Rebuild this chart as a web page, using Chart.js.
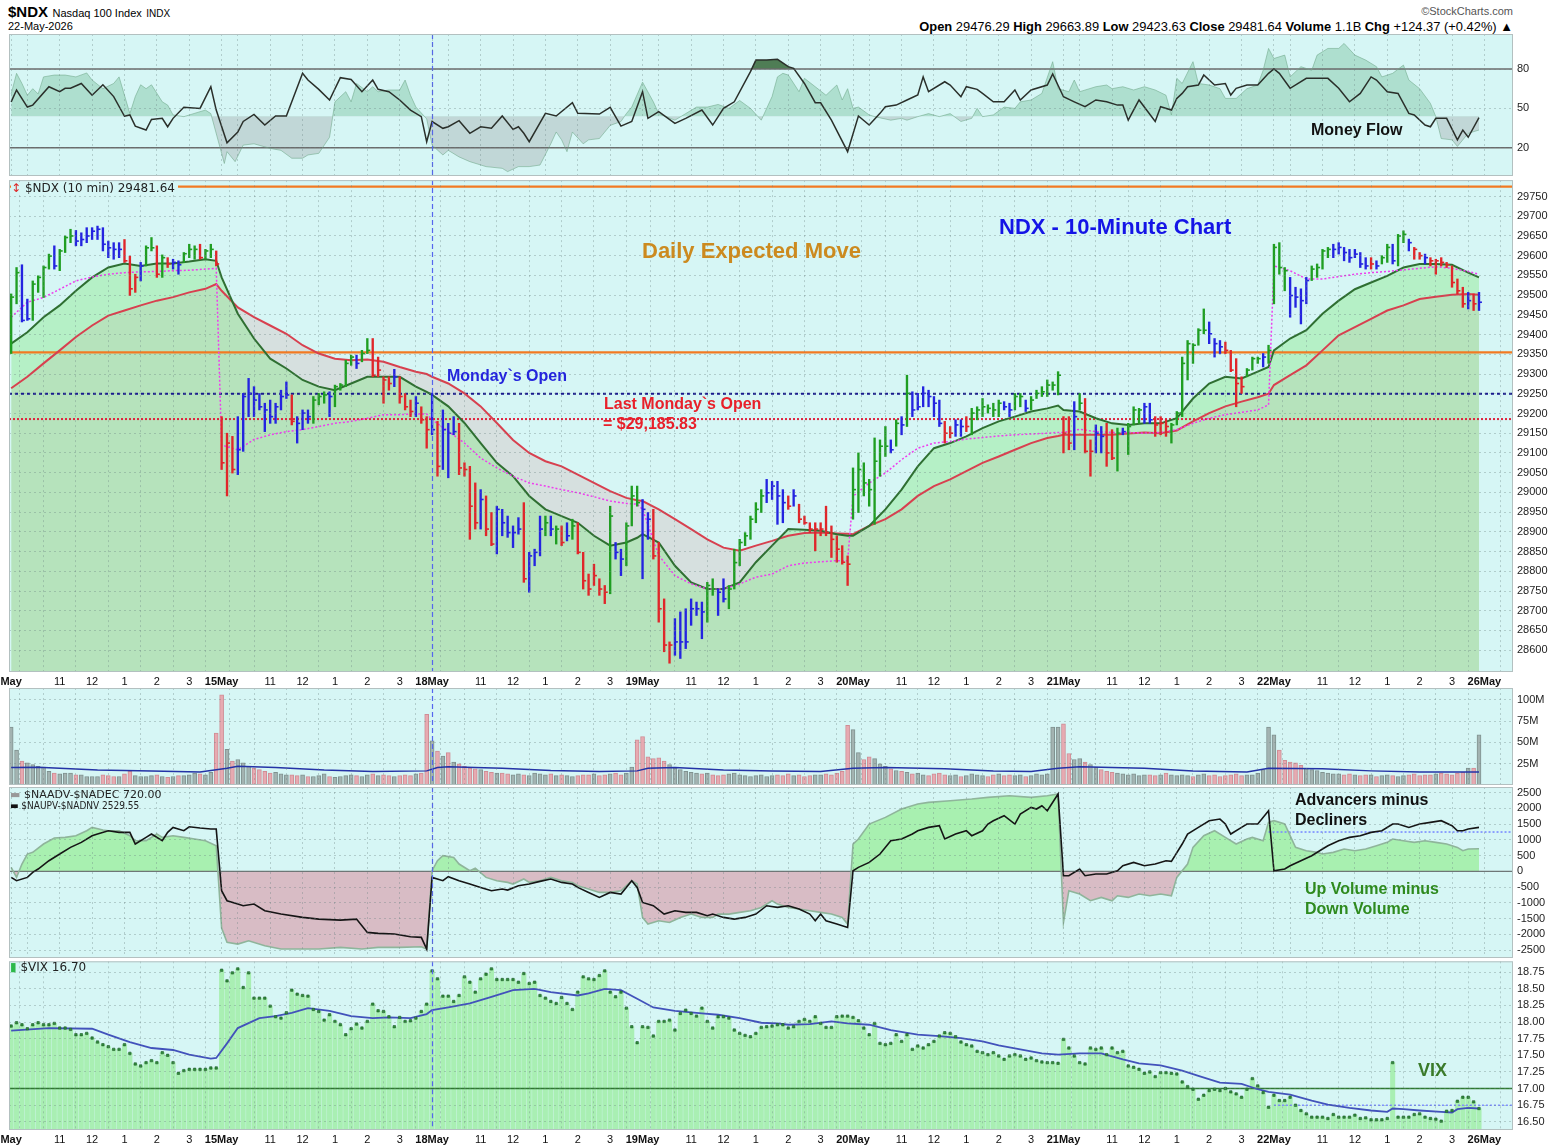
<!DOCTYPE html>
<html>
<head>
<meta charset="utf-8">
<script src="https://cdn.jsdelivr.net/npm/chart.js@4.4.1/dist/chart.umd.min.js"></script>
<style>
  body { margin: 0; background: #fff; width: 1559px; height: 1148px; position: relative; overflow: hidden;
         font-family: "Liberation Sans", Arial, sans-serif; }
  canvas { position: absolute; left: 0; }
  .t { position: absolute; white-space: nowrap; line-height: 1; }
  .note { font-weight: bold; font-size: 16px; }
  .leg { font-family: "DejaVu Sans", sans-serif; color: #222; }
</style>
</head>
<body>
<div class="t" style="left:8px;top:4px"><b style="font-size:15px">$NDX</b> <span style="font-size:11px">Nasdaq 100 Index</span> <span style="font-size:10px">INDX</span></div>
<div class="t" style="left:8px;top:21px;font-size:11px">22-May-2026</div>
<div class="t" style="right:46px;top:6px;font-size:11px;color:#555">©StockCharts.com</div>
<div class="t" style="right:46px;top:21px;font-size:12.9px"><b>Open</b> 29476.29 <b>High</b> 29663.89 <b>Low</b> 29423.63 <b>Close</b> 29481.64 <b>Volume</b> 1.1B <b>Chg</b> +124.37 (+0.42%) ▲</div>

<canvas id="mf" width="1559" height="142" style="top:34px"></canvas>
<canvas id="price" width="1559" height="511" style="top:177px"></canvas>
<canvas id="vol" width="1559" height="97" style="top:688px"></canvas>
<canvas id="breadth" width="1559" height="171" style="top:787px"></canvas>
<canvas id="vix" width="1559" height="187" style="top:959px"></canvas>

<!-- panel legends and notes -->
<div class="t leg" style="left:11px;top:182px;font-size:12px;background:#d6f6f5;padding-right:3px"><span style="color:#d22">↕</span> $NDX (10 min) 29481.64</div>
<div class="t leg" style="left:10px;top:789px;font-size:11px"><span style="color:#999">▬</span> $NAADV-$NADEC 720.00</div>
<div class="t leg" style="left:10px;top:801px;font-size:10px;font-stretch:condensed"><span style="color:#111">▬</span> $NAUPV-$NADNV 2529.55</div>
<div class="t leg" style="left:10px;top:961px;font-size:12px"><span style="color:#2db84a">▮</span> $VIX 16.70</div>

<div class="t note" style="left:642px;top:240px;font-size:22px;color:#cc8a1f">Daily Expected Move</div>
<div class="t note" style="left:999px;top:216px;font-size:22px;color:#1414e6">NDX - 10-Minute Chart</div>
<div class="t note" style="left:447px;top:368px;color:#2424dc">Monday`s Open</div>
<div class="t note" style="left:604px;top:396px;color:#e8202a">Last Monday`s Open</div>
<div class="t note" style="left:603px;top:416px;color:#e8202a">= $29,185.83</div>
<div class="t note" style="left:1311px;top:122px;color:#111">Money Flow</div>
<div class="t note" style="left:1295px;top:792px;color:#111">Advancers minus</div>
<div class="t note" style="left:1295px;top:812px;color:#111">Decliners</div>
<div class="t note" style="left:1305px;top:881px;color:#2e8a1e">Up Volume minus</div>
<div class="t note" style="left:1305px;top:901px;color:#2e8a1e">Down Volume</div>
<div class="t note" style="left:1418px;top:1061px;font-size:18px;color:#3a7a2a">VIX</div>

<script>
// ---- time axis: 10-minute bars, 39 per session ----
const BARS_PER_DAY = 39;
const dayLabels = ['May', '15May', '18May', '19May', '20May', '21May', '22May', '26May'];
const hourOffsets = [3, 9, 15, 21, 27, 33];          // 10:00 .. 3:00 in bars after the 9:30 open
const hourLabels = ['', '11', '12', '1', '2', '3'];
const MONDAY_BAR = 78;                                 // 18 May open, dashed blue marker
const X_MIN = -0.4, X_MAX = 278.3;

// ---- $NDX 10-minute bars, one line per session (14,15,18,19,20,21,22 May) ----
const priceHigh = [
  [29503,29570,29577,29490,29536,29549,29574,29604,29625,29616,29650,29667,29664,29658,29671,29671,29675,29671,29637,29633,29633,29641,29599,29553,29583,29625,29646,29625,29602,29595,29591,29587,29608,29629,29625,29629,29616,29629,29612],
  [29192,29150,29142,29192,29251,29289,29268,29251,29226,29234,29226,29259,29280,29247,29192,29209,29209,29243,29251,29255,29255,29272,29276,29335,29348,29348,29360,29390,29390,29343,29293,29293,29312,29293,29251,29234,29243,29217,29192],
  [29251,29180,29209,29175,29192,29175,29075,29066,29024,29007,28991,28949,28965,28957,28940,28915,28936,28974,28848,28856,28940,28940,28940,28915,28915,28923,28932,28923,28848,28793,28818,28781,28764,28965,28873,28856,28923,29016,29016],
  [28982,28949,28957,28873,28730,28621,28680,28697,28705,28730,28722,28722,28772,28781,28755,28781,28764,28856,28881,28898,28940,28974,29007,29033,29028,29028,29007,28991,29007,28970,28940,28923,28923,28923,28965,28915,28890,28865,28839],
  [29062,29100,29075,29033,29138,29133,29167,29133,29184,29192,29297,29255,29251,29268,29259,29243,29234,29180,29167,29184,29184,29192,29213,29217,29238,29222,29226,29234,29230,29226,29251,29251,29234,29243,29259,29268,29285,29280,29306],
  [29192,29192,29230,29251,29238,29133,29171,29167,29175,29159,29163,29163,29175,29217,29213,29226,29226,29192,29192,29184,29175,29205,29343,29385,29377,29415,29465,29432,29390,29385,29381,29360,29339,29293,29314,29343,29343,29352,29373],
  [29629,29633,29570,29545,29520,29516,29545,29574,29579,29616,29621,29629,29633,29621,29616,29616,29608,29595,29595,29587,29600,29629,29629,29654,29663,29642,29621,29608,29604,29595,29591,29595,29583,29574,29541,29520,29507,29503,29507],
];
const priceLow = [
  [29352,29478,29432,29436,29436,29507,29494,29566,29566,29562,29608,29633,29625,29625,29633,29641,29641,29612,29595,29591,29595,29583,29499,29507,29536,29574,29612,29545,29545,29570,29566,29553,29583,29595,29591,29591,29591,29595,29574],
  [29058,28991,29049,29045,29104,29192,29192,29209,29154,29175,29175,29209,29238,29171,29125,29159,29175,29175,29222,29226,29192,29217,29259,29268,29322,29314,29331,29352,29293,29293,29226,29259,29268,29226,29209,29192,29192,29175,29112],
  [29146,29041,29058,29037,29146,29045,29041,28881,28907,28907,28890,28865,28844,28890,28886,28860,28894,28772,28747,28814,28839,28890,28890,28869,28865,28877,28881,28844,28755,28739,28764,28739,28718,28743,28831,28789,28814,28915,28965],
  [28781,28881,28831,28671,28596,28567,28587,28579,28604,28663,28688,28629,28671,28739,28688,28722,28705,28755,28814,28865,28881,28923,28949,28974,28982,28919,28923,28957,28965,28923,28919,28898,28852,28890,28890,28835,28823,28818,28764],
  [28932,28949,28991,28965,28919,29041,29091,29100,29117,29146,29167,29192,29209,29217,29217,29192,29167,29125,29138,29142,29142,29154,29146,29184,29192,29201,29192,29192,29209,29192,29209,29217,29205,29209,29238,29243,29243,29259,29247],
  [29100,29108,29108,29209,29100,29041,29100,29100,29066,29083,29054,29146,29096,29171,29175,29175,29175,29142,29146,29142,29125,29171,29192,29285,29327,29373,29402,29377,29343,29352,29352,29306,29217,29251,29293,29310,29327,29318,29327],
  [29478,29553,29511,29444,29469,29427,29478,29537,29545,29566,29595,29595,29604,29587,29583,29595,29570,29566,29566,29566,29579,29583,29579,29574,29633,29612,29591,29591,29579,29574,29553,29574,29570,29520,29503,29469,29465,29461,29461],
];
const priceClose = [
  [29495,29557,29436,29440,29528,29545,29570,29599,29574,29612,29646,29650,29637,29641,29650,29662,29667,29629,29620,29616,29616,29587,29516,29545,29574,29620,29620,29553,29595,29579,29583,29577,29605,29616,29616,29595,29612,29616,29579],
  [29075,29125,29058,29108,29243,29251,29234,29217,29209,29192,29217,29243,29247,29180,29175,29201,29192,29234,29243,29247,29243,29268,29272,29327,29343,29327,29352,29360,29297,29310,29285,29276,29293,29243,29217,29205,29226,29184,29159],
  [29159,29066,29159,29150,29154,29062,29058,28965,28923,28982,28907,28869,28957,28923,28898,28898,28907,28781,28839,28848,28907,28923,28907,28907,28873,28890,28915,28848,28776,28755,28789,28755,28747,28940,28848,28831,28915,28991,28974],
  [28957,28932,28839,28705,28613,28613,28621,28621,28621,28705,28705,28697,28764,28755,28747,28730,28755,28822,28873,28890,28932,28957,28991,28999,29016,28991,28974,28965,28991,28932,28923,28907,28907,28907,28898,28881,28856,28823,28818],
  [29007,29058,29024,29007,29079,29117,29117,29108,29175,29171,29251,29209,29217,29251,29243,29226,29175,29150,29150,29171,29167,29167,29201,29209,29217,29213,29209,29226,29217,29209,29243,29243,29213,29234,29251,29255,29272,29272,29297],
  [29150,29125,29192,29226,29104,29104,29150,29142,29100,29087,29150,29154,29167,29209,29209,29217,29184,29171,29175,29167,29171,29201,29327,29377,29373,29411,29411,29402,29377,29369,29360,29310,29276,29268,29310,29339,29339,29343,29360],
  [29621,29570,29562,29499,29495,29486,29537,29566,29570,29612,29616,29616,29621,29608,29595,29604,29579,29574,29579,29574,29595,29621,29587,29650,29654,29633,29616,29600,29595,29587,29587,29583,29577,29532,29511,29478,29486,29478,29482],
];
// impulse colouring of each bar: g = green, b = blue, r = red
const barColor = [
  'ggbbggggbgggbbbbbbbbbrrrbggrgrbbgggrggr',
  'rrrbbbbbbbbbbrbbbgggbggggbggrrrrbrrrbrr',
  'brbbbrrrrbrrbbbbbrbbbgbgrbgrrrrrrgbbggg',
  'bbrrrrbbbbbbggbbgggggggbbbbrbrrrrrrrrrr',
  'gggggggbgbgbbbbbbrrbbrggggggbbggbgggggg',
  'rrbgrrbbrrgbgggbbrrrgggggggbbbrrrrgggbg',
  'gggbbbbggggbbbbbbbrbggbggbrrbrrrrrrrbrb',
];

// ---- overlays, read every 3 bars plus the session's last bar ----
const maOffsets = [0, 3, 6, 9, 12, 15, 18, 21, 24, 27, 30, 33, 36, 38];
const maFast = [
  [29377,29406,29444,29474,29511,29545,29570,29580,29574,29580,29580,29585,29591,29587],
  [29545,29453,29390,29339,29314,29285,29268,29259,29276,29293,29293,29293,29268,29255],
  [29247,29218,29176,29125,29075,29041,28991,28957,28940,28923,28890,28865,28873,28885],
  [28894,28873,28814,28772,28755,28755,28772,28823,28865,28907,28905,28903,28894,28890],
  [28890,28915,28957,29007,29066,29112,29125,29142,29163,29180,29192,29205,29213,29220],
  [29209,29205,29188,29175,29171,29175,29175,29188,29238,29276,29293,29289,29306,29318],
  [29360,29390,29411,29453,29486,29515,29532,29549,29570,29579,29579,29577,29557,29545],
];
const maSlow = [
  [29264,29293,29327,29360,29394,29423,29448,29461,29474,29486,29495,29507,29516,29528],
  [29511,29469,29444,29423,29402,29373,29352,29339,29335,29337,29331,29318,29306,29300],
  [29293,29276,29251,29218,29176,29133,29100,29079,29066,29045,29024,29003,28986,28980],
  [28978,28957,28932,28907,28881,28860,28852,28865,28877,28890,28897,28898,28896,28895],
  [28894,28915,28932,28957,28991,29016,29033,29054,29075,29091,29108,29125,29138,29143],
  [29146,29146,29146,29146,29149,29152,29150,29157,29180,29201,29218,29230,29241,29250],
  [29272,29297,29322,29360,29398,29419,29440,29461,29474,29490,29496,29501,29503,29501],
];
const vwap = [
  [29444,29482,29494,29515,29536,29546,29553,29557,29559,29560,29562,29563,29566,29568],
  [29120,29108,29134,29146,29154,29159,29167,29175,29180,29188,29197,29197,29199,29199],
  [29184,29155,29125,29087,29062,29041,29024,29016,29007,28999,28989,28978,28972,28970],
  [28957,28840,28789,28768,28755,28755,28768,28785,28793,28814,28821,28824,28827,28827],
  [28990,29024,29049,29083,29112,29125,29129,29135,29139,29143,29146,29148,29150,29152],
  [29152,29160,29154,29152,29152,29150,29152,29159,29175,29188,29197,29203,29209,29222],
  [29574,29562,29541,29541,29547,29553,29557,29560,29564,29568,29572,29568,29560,29553],
];
const expectedMoveHigh = 29775, expectedMoveLow = 29355;
const mondayOpen = 29250, lastMondayOpen = 29185.83;

// ---- Money Flow [bar, value] ----
const mfLine = [[0,55],[1,64],[3,51],[4,52.5],[7,66.5],[9,62.7],[10,65.3],[11,65.3],[13,69],[15,60],[17,68],[19,59],[21,44],[22,45],[23,36.5],[25,33.5],[26,41.6],[28,42.4],[29,36],[30,42.4],[32,50.8],[35,50],[37,66.5],[38,48.7],[40,23.8],[42,32],[43,40],[45,45.4],[47,37.3],[49,44.2],[51,44.2],[54,76.7],[55,71.6],[57,64.5],[59,56.4],[61,73.4],[63,72],[65,62.7],[67,71.6],[68,64.5],[70,62.7],[72,56.4],[74,48.7],[76,43.7],[77,24.6],[78,40],[80,34.8],[81,36],[83,40.6],[85,31],[87,36],[89,34.8],[91,44.2],[93,34],[94,36],[95,31],[96,24.6],[99,46.2],[101,44.2],[104,54.3],[105,46.2],[109,45.7],[111,50.8],[113,36.5],[115,40],[117,62.7],[118,42.4],[120,47.5],[123,38.6],[125,42.4],[128,48.7],[130,37.3],[132,50],[134,55],[137,78],[138,86.8],[140,86.8],[142,87.4],[144,81.8],[145,80.5],[147,69],[149,54.3],[150,54.3],[152,41],[155,17],[157,44.2],[159,37.3],[161,46.2],[162,51.3],[164,52.5],[166,56.4],[168,60.2],[169,74],[170,62.7],[173,70.3],[174,67.8],[176,58.9],[177,66.5],[179,64.5],[180,61.4],[182,55],[184,55],[186,64],[187,56.4],[189,64],[192,67.8],[193,76.2],[195,58.9],[197,55],[199,51.3],[201,56.4],[203,55],[205,52.5],[206,52.5],[207,41],[209,56.4],[212,40],[213,51.3],[215,48.7],[216,57.6],[217,61.4],[218,66.5],[220,67.8],[221,75.4],[223,67.8],[225,69],[226,60.2],[227,65.3],[229,67.8],[231,67.8],[233,76.7],[234,80],[235,76.7],[237,65.3],[240,72.9],[244,72.9],[246,65.3],[248,55],[250,61.4],[252,74],[253,71.6],[255,62.7],[257,61.4],[259,46.2],[260,45],[262,37.3],[263,36],[264,42.4],[266,42.4],[268,26],[269,33.5],[270,28],[272,43]];
const mfShade = [[0,61],[1,76.7],[2,69],[3,60],[4,65],[5,61],[6,74],[8,75.4],[10,75.4],[12,74],[14,77],[15,71.6],[17,65],[19,69],[20,74],[22,46],[23,59],[24,68],[25,65],[26,68],[28,55],[29,52.5],[30,45],[32,43.7],[35,47.5],[36,48.7],[37,46],[39,15.7],[39.5,8],[40,17],[41.5,9.4],[43,22],[45,23],[48,19.5],[50,18],[52,12],[54,12],[55,14.5],[57,15.7],[59,28],[60,55],[62,62.7],[63,55],[64,69],[66,62.7],[67,66.5],[68,62.7],[70,64],[72,64],[73,71.6],[74,60],[75,51],[77,42],[78,22],[80,14.5],[81,18],[83,13],[85,9.4],[88,5.6],[91,4.3],[92,1.8],[94,5.6],[96,5.6],[98,6.8],[100,23],[101,32],[102,26],[103,17],[104,32],[106,23],[107,26],[109,27],[111,37],[113,40],[114,46],[115,51],[117,70],[119,55],[120,46],[123,41],[125,46],[127,51],[129,51],[131,53],[133,50],[135,56],[137,50],[139,41],[141,59],[142,74],[143,76.7],[144,75.4],[146,62.7],[147,72.9],[149,66.5],[151,60],[153,67.8],[154,56.4],[155,65],[156,50],[157,51],[159,45],[160,43.7],[163,41],[165,42.4],[166,41],[168,43.7],[170,46],[172,43.7],[174,46],[176,40],[178,42.4],[179,50],[180,43.7],[182,45],[184,51],[186,50],[187,55],[189,56.4],[191,61.4],[193,85.6],[194,65],[196,62.7],[197,71.6],[198,62.7],[201,66.5],[203,67.8],[204,65],[206,66.5],[208,64],[210,66.5],[212,64],[214,60],[215,45],[216,72.9],[217,69],[219,85.6],[220,69],[222,67.8],[224,65],[225,57.6],[227,57.6],[229,65],[231,67.8],[232,79],[233,95.7],[234,88],[236,90.6],[237,74],[239,81.8],[241,79],[242,90.6],[244,95.7],[246,95.7],[247,99.5],[249,90.6],[251,86.8],[253,81.8],[254,74],[256,76.7],[258,83],[259,71.6],[261,65],[263,53.8],[264,43.7],[265,27],[267,26],[268,21],[270,31],[272,33.5]];
const MF_SHADE_BASE = 44;

// ---- Volume (millions), one line per session ----
const volume = [
  [68,41,28,26,24,22,21,16,14,13,14,14,12,12,10,10,10,12,11,10,10,13,16,11,10,10,11,12,10,9,10,11,11,12,14,13,12,15,61],
  [106,42,28,30,26,22,20,18,16,14,15,13,12,12,11,12,10,10,11,13,10,9,10,11,12,11,10,12,13,11,12,11,10,11,12,11,13,14,83],
  [52,40,34,38,27,25,22,20,19,18,16,15,14,14,13,12,13,12,11,14,13,12,13,11,12,11,10,11,12,12,13,11,12,13,14,12,14,21,53],
  [57,33,31,32,28,24,20,18,16,15,14,13,14,12,11,12,13,14,12,11,10,11,12,10,11,12,11,13,11,12,10,11,12,12,13,12,14,16,70],
  [65,38,30,33,31,25,22,19,17,16,15,13,14,12,11,13,14,12,11,12,10,11,13,12,11,10,12,13,11,12,11,12,10,11,13,12,13,68,68],
  [72,37,30,31,27,24,21,18,16,15,14,13,12,13,11,12,12,11,12,14,12,11,12,11,10,12,13,11,12,10,11,12,13,11,12,12,14,18,68],
  [59,41,29,27,26,23,20,18,17,15,14,13,13,12,13,12,11,12,12,10,11,12,11,10,11,12,13,11,12,12,13,14,13,12,14,15,20,20,59],
];
const volumeAvg = [[0,20.5],[5,21],[16,17.5],[26,16.6],[35,15.4],[40,19.6],[42,22],[49,20.6],[58,17.5],[67,16],[77,16.6],[79,20.6],[81,21.5],[91,19.6],[100,17],[109,16],[116,16.6],[118,19.6],[123,20.6],[132,17.5],[141,16.6],[150,16],[156,19.6],[162,20.6],[173,19],[182,16.6],[189,16],[194,19.6],[198,21.5],[210,19.6],[219,16.6],[229,15.4],[233,19.6],[243,19],[252,16.6],[261,15.4],[272,15.4]];

// ---- Breadth [bar, value] ----
const advDecl = [[0,126],[1,-192],[2,232],[3,550],[4,603],[6,868],[8,1059],[10,1080],[12,1133],[14,1291],[15,1397],[17,1313],[18,1291],[20,1291],[22,1133],[23,974],[25,974],[27,1186],[28,1080],[30,1133],[32,1080],[34,1027],[36,974],[38,815],[39,-1800],[40,-2258],[42,-2311],[44,-2205],[47,-2364],[50,-2470],[54,-2470],[57,-2470],[61,-2417],[65,-2470],[68,-2417],[72,-2417],[76,-2396],[77,-2470],[78,20],[79,338],[80,497],[82,444],[83,232],[85,20],[86,104],[88,-192],[90,-298],[92,-351],[93,-404],[95,-244],[96,-351],[98,-298],[100,-192],[102,-298],[104,-351],[105,-457],[107,-563],[109,-669],[111,-669],[113,-616],[115,-298],[116,-404],[117,-1464],[118,-1676],[120,-1570],[122,-1623],[124,-1464],[126,-1358],[128,-1464],[130,-1464],[131,-1358],[133,-1358],[135,-1305],[137,-1252],[139,-1146],[141,-934],[142,-1040],[144,-1146],[146,-1199],[148,-1252],[150,-1305],[152,-1358],[154,-1464],[155,-1676],[156,868],[157,1027],[159,1504],[162,1715],[165,1980],[168,2139],[170,2192],[174,2245],[178,2298],[181,2351],[185,2404],[189,2351],[192,2404],[194,2457],[195,-1620],[196,-616],[198,-722],[200,-934],[202,-828],[204,-934],[205,-775],[207,-828],[209,-722],[211,-775],[213,-722],[215,-775],[216,-192],[218,232],[219,762],[221,1133],[223,1291],[225,1080],[227,868],[229,1027],[230,1080],[232,974],[233,1557],[234,1610],[236,1504],[238,762],[240,656],[242,603],[243,550],[245,603],[247,709],[249,656],[251,709],[253,815],[255,921],[256,1027],[258,974],[260,921],[262,974],[264,921],[266,868],[268,762],[269,656],[270,709],[272,720]];
const upDownVol = [[0,-192],[1,-298],[3,-192],[4,-32],[5,73],[7,338],[9,550],[11,762],[13,921],[15,1133],[16,1186],[18,1291],[20,1239],[22,1239],[23,868],[25,1080],[26,1186],[28,974],[29,1239],[30,1397],[32,1291],[33,1418],[35,1376],[37,1344],[38,1344],[39,-616],[40,-934],[42,-1040],[43,-1093],[45,-1040],[47,-1252],[50,-1358],[54,-1464],[57,-1517],[61,-1549],[64,-1517],[66,-1940],[68,-1972],[71,-1993],[74,-2078],[76,-2099],[77,-2470],[78,-192],[80,-298],[81,-171],[83,-298],[85,-404],[87,-510],[89,-616],[91,-563],[92,-595],[94,-457],[96,-404],[98,-319],[100,-244],[102,-351],[104,-404],[105,-510],[107,-669],[109,-828],[111,-669],[113,-722],[115,-298],[116,-510],[117,-987],[119,-1093],[121,-1358],[123,-1252],[125,-1305],[127,-1305],[129,-1411],[130,-1358],[132,-1464],[134,-1517],[136,-1464],[138,-1358],[140,-1093],[142,-1146],[144,-1093],[146,-1199],[148,-1358],[149,-1570],[150,-1358],[151,-1570],[153,-1676],[155,-1782],[156,20],[157,126],[159,285],[161,550],[163,974],[165,1027],[167,1186],[168,1291],[170,1397],[172,1450],[173,1027],[175,1186],[177,1291],[178,1133],[180,1291],[181,1504],[182,1610],[184,1768],[186,1504],[187,1821],[189,2033],[190,1980],[191,2086],[192,1927],[194,2457],[195,-139],[196,-139],[198,73],[199,-139],[201,-86],[203,-86],[205,20],[206,179],[208,285],[210,179],[212,232],[214,338],[215,317],[217,868],[218,1186],[220,1397],[222,1610],[224,1662],[225,1504],[226,1186],[228,1397],[229,1504],[231,1504],[233,1927],[234,20],[236,73],[237,179],[239,338],[241,497],[243,709],[244,815],[246,974],[248,1080],[250,1133],[252,1239],[254,1291],[256,1504],[257,1504],[259,1397],[261,1504],[263,1557],[265,1610],[267,1450],[268,1291],[269,1291],[270,1344],[272,1397]];
const BREADTH_REF = 1250;

// ---- $VIX 10-minute closes, one line per session ----
const vix = [
  [17.94,17.99,17.96,17.90,17.96,17.99,17.96,17.96,17.98,17.91,17.91,17.89,17.81,17.81,17.83,17.76,17.70,17.66,17.63,17.59,17.59,17.66,17.53,17.37,17.34,17.39,17.42,17.39,17.54,17.50,17.39,17.23,17.27,17.29,17.29,17.29,17.29,17.31,17.31],
  [18.78,18.62,18.74,18.80,18.52,18.74,18.36,18.36,18.36,18.24,18.08,18.06,18.14,18.48,18.42,18.40,18.39,18.19,18.16,18.03,18.11,18.01,17.96,17.81,17.90,17.97,17.91,18.01,18.27,18.17,18.16,18.08,17.93,18.07,18.01,18.02,18.06,18.16,18.27],
  [18.77,18.65,18.39,18.39,18.31,18.40,18.68,18.60,18.45,18.65,18.72,18.80,18.64,18.64,18.64,18.64,18.60,18.73,18.58,18.60,18.40,18.36,18.31,18.28,18.37,18.28,18.19,18.45,18.68,18.65,18.64,18.70,18.77,18.45,18.38,18.45,18.21,17.93,17.69],
  [17.93,17.92,17.79,18.01,18.01,18.03,17.88,18.13,18.18,18.13,18.09,18.21,18.01,17.91,18.08,18.08,18.06,17.88,17.83,17.80,17.78,17.83,17.92,17.93,17.94,17.96,17.96,17.91,17.93,18.01,18.04,18.01,18.08,17.98,17.92,17.92,18.08,18.09,18.09],
  [18.07,18.02,17.91,17.81,17.98,17.68,17.66,17.68,17.81,17.71,17.81,17.59,17.64,17.61,17.66,17.71,17.79,17.84,17.83,17.78,17.70,17.66,17.64,17.56,17.54,17.51,17.54,17.49,17.44,17.49,17.51,17.49,17.44,17.46,17.42,17.40,17.39,17.39,17.38],
  [17.74,17.61,17.49,17.39,17.37,17.61,17.59,17.61,17.51,17.61,17.54,17.56,17.34,17.32,17.29,17.23,17.25,17.18,17.24,17.24,17.23,17.22,17.10,17.03,16.99,16.84,16.90,16.97,16.99,16.97,17.00,16.95,16.92,16.87,16.99,17.15,17.04,16.94,16.72],
  [16.90,16.82,16.82,16.87,16.75,16.67,16.62,16.57,16.57,16.57,16.55,16.61,16.57,16.57,16.57,16.60,16.55,16.56,16.53,16.53,16.53,16.55,17.39,16.57,16.57,16.57,16.61,16.62,16.57,16.55,16.54,16.51,16.66,16.67,16.81,16.87,16.87,16.80,16.70],
];
const vixAvg = [[0,17.87],[7,17.91],[15,17.90],[18,17.81],[22,17.70],[26,17.61],[30,17.58],[33,17.51],[37,17.45],[38,17.46],[40,17.68],[42,17.91],[46,18.06],[49,18.09],[52,18.14],[55,18.21],[59,18.17],[63,18.09],[67,18.06],[70,18.07],[74,18.06],[77,18.12],[78,18.18],[81,18.22],[85,18.28],[89,18.38],[93,18.48],[97,18.50],[100,18.45],[105,18.40],[107,18.43],[110,18.50],[113,18.48],[116,18.35],[119,18.22],[123,18.17],[128,18.13],[131,18.11],[135,18.06],[139,17.99],[142,17.98],[144,17.96],[148,17.97],[152,18.01],[155,17.98],[159,17.96],[163,17.88],[168,17.81],[172,17.79],[176,17.76],[180,17.71],[183,17.65],[187,17.59],[191,17.53],[194,17.51],[198,17.53],[202,17.53],[206,17.44],[209,17.38],[213,17.35],[217,17.27],[220,17.19],[224,17.09],[228,17.07],[231,16.99],[233,16.95],[237,16.91],[241,16.82],[244,16.76],[248,16.71],[252,16.67],[255,16.65],[256,16.70],[258,16.69],[261,16.67],[265,16.65],[267,16.64],[268,16.69],[270,16.71],[272,16.70]];
const VIX_LINE = 17.00, VIX_REF = 16.75;

// ---- styling ----
const FONT = '"Liberation Sans", Arial, sans-serif';
const PANEL_BG = '#d6f6f5';
const GRID = 'rgba(105,130,130,0.35)';
const BAR_RGB = { g: '#1f9e22', b: '#2424e0', r: '#e0262a' };

// ---- derived series ----
const hi = priceHigh.flat(), lo = priceLow.flat(), cl = priceClose.flat();
const colours = barColor.join('').split('').map(c => BAR_RGB[c]);
const sampled = rows => rows.flatMap((row, d) => row.map((y, k) => ({ x: d * BARS_PER_DAY + maOffsets[k], y })));
const pairs = list => list.map(([x, y]) => ({ x, y }));
const hline = (y, color, width, dash = [], x0 = X_MIN) => ({
  data: [{ x: x0, y }, { x: X_MAX, y }], borderColor: color, borderWidth: width, borderDash: dash, pointRadius: 0, fill: false,
});

const xTickValues = [];
const xTickLabel = new Map();
dayLabels.forEach((lab, d) => { xTickValues.push(d * BARS_PER_DAY); xTickLabel.set(d * BARS_PER_DAY, lab); });
for (let d = 0; d < dayLabels.length - 1; d++) {
  hourOffsets.forEach((o, j) => { const v = d * BARS_PER_DAY + o; xTickValues.push(v); xTickLabel.set(v, hourLabels[j]); });
}
xTickValues.sort((a, b) => a - b);

function xAxis(showLabels) {
  return {
    type: 'linear', min: X_MIN, max: X_MAX, offset: false,
    afterBuildTicks: s => { s.ticks = xTickValues.map(value => ({ value })); },
    afterFit: s => { s.height = showLabels ? 16 : 0; s.paddingLeft = 0; s.paddingRight = 0; },
    grid: { color: GRID, drawTicks: false, z: 1 },
    border: { display: false, dash: [2, 3] },
    ticks: {
      display: showLabels, autoSkip: false, maxRotation: 0, padding: 3, color: '#111',
      font: c => ({ family: FONT, size: 11, weight: c.tick && c.tick.value % BARS_PER_DAY === 0 ? 'bold' : 'normal' }),
      callback: v => xTickLabel.get(v) ?? '',
    },
  };
}

function yAxis(min, max, values, fmt) {
  return {
    position: 'right', min, max,
    afterBuildTicks: s => { s.ticks = values.map(value => ({ value })); },
    afterFit: s => { s.width = 46; s.paddingTop = 0; s.paddingBottom = 0; },
    grid: { color: GRID, drawTicks: false, z: 1 },
    border: { display: false, dash: [2, 3] },
    ticks: { autoSkip: false, padding: 4, color: '#222', font: { family: FONT, size: 11 }, callback: fmt },
  };
}

const range = (a, b, step) => Array.from({ length: Math.round((b - a) / step) + 1 }, (_, i) => +(a + i * step).toFixed(2));

// panel background, 18 May marker and frame
const panelPlugin = {
  id: 'panel',
  beforeDraw(chart) {
    const { ctx, chartArea: a } = chart;
    ctx.save();
    ctx.fillStyle = PANEL_BG;
    ctx.fillRect(a.left, a.top, a.right - a.left, a.bottom - a.top);
    ctx.restore();
  },
  afterDatasetsDraw(chart) {
    const { ctx, chartArea: a } = chart;
    const x = Math.round(chart.scales.x.getPixelForValue(MONDAY_BAR)) + 0.5;
    ctx.save();
    ctx.strokeStyle = '#5566ee';
    ctx.lineWidth = 1.2;
    ctx.setLineDash([5, 3]);
    ctx.beginPath(); ctx.moveTo(x, a.top); ctx.lineTo(x, a.bottom); ctx.stroke();
    ctx.restore();
  },
  afterDraw(chart) {
    const { ctx, chartArea: a } = chart;
    ctx.save();
    ctx.strokeStyle = '#b3c0c0';
    ctx.lineWidth = 1;
    ctx.strokeRect(a.left + 0.5, a.top + 0.5, a.right - a.left - 1, a.bottom - a.top - 1);
    ctx.restore();
  },
};

function makeChart(id, datasets, y, showX) {
  return new Chart(document.getElementById(id), {
    type: 'line',
    data: { datasets },
    options: {
      responsive: false, animation: false, devicePixelRatio: 1,
      layout: { padding: { left: 9, right: 0, top: 0, bottom: 0 } },
      plugins: { legend: { display: false }, tooltip: { enabled: false }, filler: { drawTime: 'beforeDatasetsDraw' } },
      elements: { point: { radius: 0, hoverRadius: 0 }, line: { tension: 0 } },
      scales: { x: xAxis(showX), y },
    },
    plugins: [panelPlugin],
  });
}

// ---- Money Flow panel ----
makeChart('mf', [
  { data: pairs(mfLine), borderColor: '#2a2f2a', borderWidth: 1.5,
    fill: { target: { value: 80 }, above: '#4f7d55', below: 'rgba(0,0,0,0)' } },
  { data: pairs(mfShade), borderColor: 'rgba(110,165,135,0.55)', borderWidth: 1,
    fill: { target: { value: MF_SHADE_BASE }, above: 'rgba(120,190,155,0.42)', below: 'rgba(160,165,165,0.38)' } },
  hline(80, '#6b6b6b', 1.4),
  hline(20, '#6b6b6b', 1.4),
], yAxis(-1.55, 106.7, [20, 50, 80], v => String(v)), false);

// ---- price panel ----
makeChart('price', [
  { data: cl.map((c, i) => ({ x: i + 0.27, y: c })), showLine: false, pointStyle: 'line',
    pointRadius: 1.5, pointBorderWidth: 1.6, pointBorderColor: colours, fill: false },
  { type: 'bar', data: hi.map((h, i) => ({ x: i, y: [lo[i], h] })), backgroundColor: colours,
    barThickness: 1.7, borderWidth: 0 },
  { data: sampled(vwap), borderColor: '#ee3dee', borderWidth: 1.5, borderDash: [2, 2], fill: false },
  { data: sampled(maFast), borderColor: '#2f6f32', borderWidth: 2,
    fill: { target: '+1', above: '#b5f0c6', below: '#d6e0df' } },
  { data: sampled(maSlow), borderColor: '#d8404f', borderWidth: 2, fill: 'start', backgroundColor: '#b6e3bc' },
  hline(expectedMoveHigh, '#f27a22', 2.2),
  hline(expectedMoveLow, '#f27a22', 2.2),
  hline(mondayOpen, '#1a1a8e', 2, [3, 3]),
  hline(lastMondayOpen, '#e1203c', 2, [2, 2]),
], yAxis(28544.7, 29791.6, range(28600, 29750, 50), v => String(v)), true);

// ---- volume panel (grey up / pink down versus the prior close) ----
const vol = volume.flat();
const volUp = vol.map((_, i) => i === 0 || cl[i] >= cl[i - 1]);
makeChart('vol', [
  { data: pairs(volumeAvg), borderColor: '#2433a6', borderWidth: 1.5, fill: false },
  { type: 'bar', data: vol.map((v, i) => ({ x: i, y: v })), barThickness: 4,
    backgroundColor: volUp.map(u => (u ? '#a3b3b1' : '#e7aab1')),
    borderColor: volUp.map(u => (u ? '#7f9290' : '#cf8d95')), borderWidth: 1 },
], yAxis(0, 114, [25, 50, 75, 100], v => v + 'M'), false);

// ---- breadth panel ----
makeChart('breadth', [
  { data: pairs(upDownVol), borderColor: '#151515', borderWidth: 1.6, fill: false },
  { data: pairs(advDecl), borderColor: '#8fb59b', borderWidth: 1.6,
    fill: { target: { value: 0 }, above: '#a8f0b0', below: '#d8bcc5' } },
  hline(0, '#6f7575', 1.2),
  hline(BREADTH_REF, '#7b8cff', 1.6, [2, 2], 233),
], yAxis(-2754, 2681, range(-2500, 2500, 500), v => String(v)), false);

// ---- VIX panel ----
const vixClose = vix.flat();
makeChart('vix', [
  { data: vixClose.map((v, i) => ({ x: i, y: v })), showLine: false, pointStyle: 'rect',
    pointRadius: 1.7, pointBackgroundColor: '#2f8f3c', pointBorderColor: '#1f5a28', pointBorderWidth: 0.6, fill: false },
  { data: pairs(vixAvg), borderColor: '#4252bb', borderWidth: 1.8, fill: false },
  hline(VIX_LINE, '#2e7a30', 1.5),
  hline(VIX_REF, '#7f90ff', 1.6, [2, 2], 234),
  { type: 'bar', data: vixClose.map((v, i) => ({ x: i, y: v })), backgroundColor: '#a9efb3', barThickness: 4.4, borderWidth: 0 },
], yAxis(16.377, 18.914, range(16.5, 18.75, 0.25), v => v.toFixed(2)), true);
</script>
</body>
</html>
